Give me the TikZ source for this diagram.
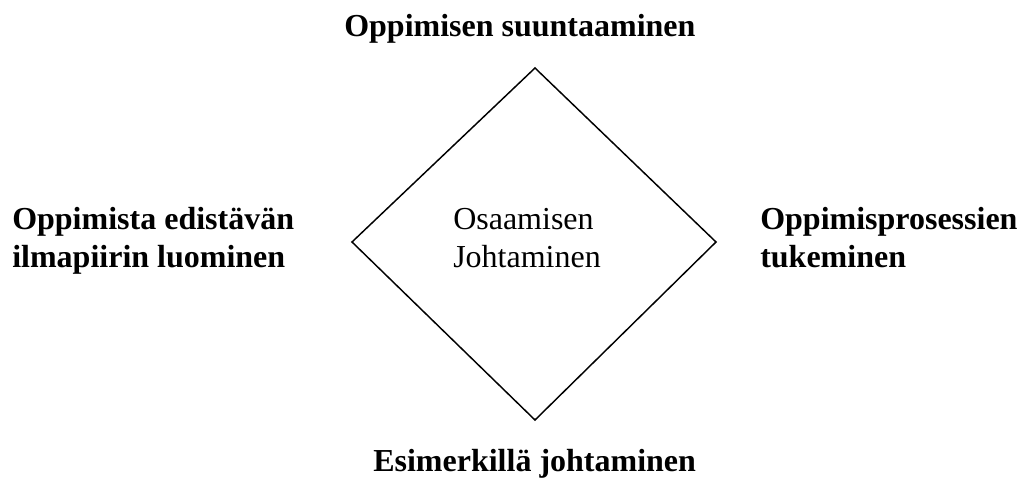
\documentclass[tikz,border=0pt]{standalone}
\usepackage{fontspec}
\setmainfont{Liberation Serif}
\usetikzlibrary{positioning}
\tikzset{
  corner/.style={font=\fontsize{24}{28.5}\selectfont\bfseries, align=left, inner sep=0pt, anchor=base west},
  centre/.style={font=\fontsize{24}{28.5}\selectfont, align=left, inner sep=0pt, anchor=base west},
  edge/.style={line width=1.1pt, draw=black, line join=miter},
}
\begin{document}
\begin{tikzpicture}[x=0.75pt, y=-0.75pt]
  \useasboundingbox (0,0) rectangle (1020,478);

  \coordinate (top) at (535,68);
  \coordinate (right) at (716,242);
  \coordinate (bottom) at (535,420);
  \coordinate (left) at (352,242);

  \draw[edge] (top) -- (right) -- (bottom) -- (left) -- cycle;

  % base anchor sits on the last line
  \node[centre] (mid) at (453,267) {Osaamisen\\Johtaminen};

  \node[corner] (north) at (344,37) {Oppimisen suuntaaminen};
  \node[corner] (west) at (12,267) {Oppimista edistävän\\ilmapiirin luominen};
  \node[corner] (east) at (760,267) {Oppimisprosessien\\tukeminen};
  \node[corner] (south) at (373,471) {Esimerkillä johtaminen};
\end{tikzpicture}
\end{document}
